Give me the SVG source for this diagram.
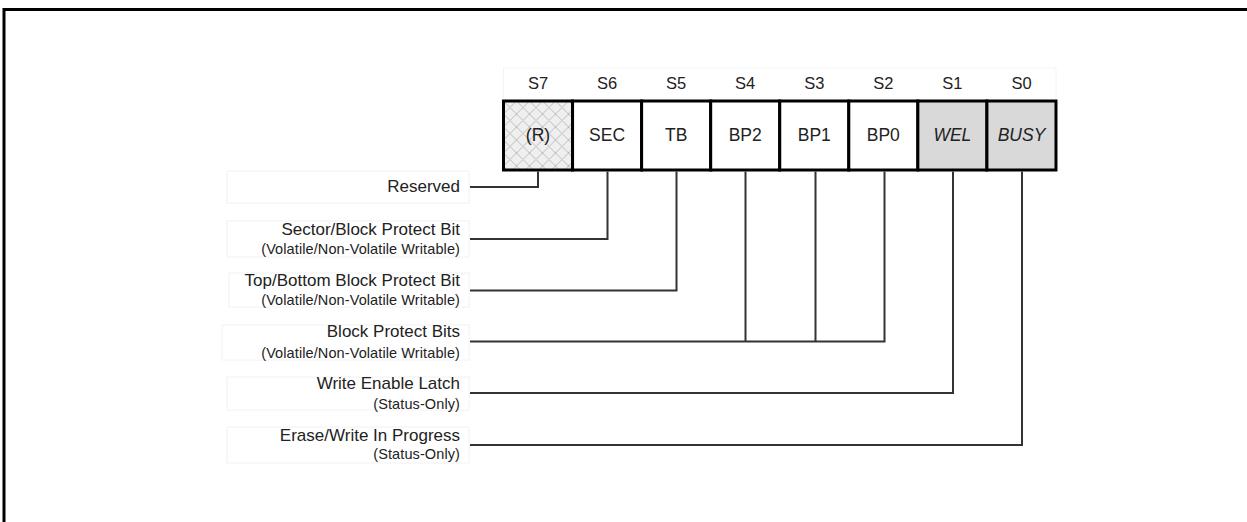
<svg xmlns="http://www.w3.org/2000/svg" width="1247" height="522" viewBox="0 0 1247 522">
<defs>
<pattern id="hatch" patternUnits="userSpaceOnUse" width="13" height="13" x="503.5" y="101">
<rect width="13" height="13" fill="#efefef"/>
<path d="M0,0 L13,13 M13,0 L0,13" stroke="#bdbdbd" stroke-width="1"/>
</pattern>
<style>
.hdr{font-family:"Liberation Sans",Arial,sans-serif;font-size:16.5px;fill:#222;text-anchor:middle}
.cell{font-family:"Liberation Sans",Arial,sans-serif;font-size:17.5px;fill:#222;text-anchor:middle}
.it{font-style:italic}
.lbl{font-family:"Liberation Sans",Arial,sans-serif;font-size:17px;fill:#222;text-anchor:end}
.sub{font-family:"Liberation Sans",Arial,sans-serif;font-size:14.5px;fill:#222;text-anchor:end;letter-spacing:0.1px}
.lbox{fill:none;stroke:#f2f2f2;stroke-width:1}
.hbox{fill:none;stroke:#f4f4f4;stroke-width:1}
.conn{fill:none;stroke:#333;stroke-width:2}
.cbox{stroke:#000;stroke-width:3}
</style>
</defs>
<rect width="1247" height="522" fill="#fff"/>
<path d="M4,522 V9.5 H1247" fill="none" stroke="#000" stroke-width="3"/>

<g id="headers">
<rect class="hbox" x="503.5" y="68" width="552.5" height="33"/>
<text class="hdr" x="538" y="89">S7</text>
<text class="hdr" x="607.1" y="89">S6</text>
<text class="hdr" x="676.2" y="89">S5</text>
<text class="hdr" x="745.2" y="89">S4</text>
<text class="hdr" x="814.3" y="89">S3</text>
<text class="hdr" x="883.3" y="89">S2</text>
<text class="hdr" x="952.4" y="89">S1</text>
<text class="hdr" x="1021.5" y="89">S0</text>
</g>

<g id="register">
<g id="cell-s7"><rect class="cbox" x="503.5" y="101" width="69.06" height="69" fill="url(#hatch)"/><text class="cell" x="538" y="140.5">(R)</text></g>
<g id="cell-s6"><rect class="cbox" x="572.56" y="101" width="69.06" height="69" fill="#fff"/><text class="cell" x="607.1" y="140.5">SEC</text></g>
<g id="cell-s5"><rect class="cbox" x="641.62" y="101" width="69.06" height="69" fill="#fff"/><text class="cell" x="676.2" y="140.5">TB</text></g>
<g id="cell-s4"><rect class="cbox" x="710.68" y="101" width="69.06" height="69" fill="#fff"/><text class="cell" x="745.2" y="140.5">BP2</text></g>
<g id="cell-s3"><rect class="cbox" x="779.74" y="101" width="69.06" height="69" fill="#fff"/><text class="cell" x="814.3" y="140.5">BP1</text></g>
<g id="cell-s2"><rect class="cbox" x="848.8" y="101" width="69.06" height="69" fill="#fff"/><text class="cell" x="883.3" y="140.5">BP0</text></g>
<g id="cell-s1"><rect class="cbox" x="917.86" y="101" width="69.06" height="69" fill="#d9d9d9"/><text class="cell it" x="952.4" y="140.5">WEL</text></g>
<g id="cell-s0"><rect class="cbox" x="986.92" y="101" width="69.06" height="69" fill="#d9d9d9"/><text class="cell it" x="1021.5" y="140.5">BUSY</text></g>
</g>

<g id="connectors">
<path class="conn" d="M470,187 H538 V171.5"/>
<path class="conn" d="M470,239 H607.5 V171.5"/>
<path class="conn" d="M470,290.5 H676.5 V171.5"/>
<path class="conn" d="M470,341.5 H884.5 V171.5 M745.5,341.5 V171.5 M815.5,341.5 V171.5"/>
<path class="conn" d="M470,393 H953 V171.5"/>
<path class="conn" d="M470,445 H1022 V171.5"/>
</g>

<g id="label-reserved">
<rect class="lbox" x="227" y="171" width="242" height="32"/>
<text class="lbl" x="460" y="192">Reserved</text>
</g>
<g id="label-sec">
<rect class="lbox" x="227" y="221" width="242" height="36"/>
<text class="lbl" x="460" y="235">Sector/Block Protect Bit</text>
<text class="sub" x="460" y="253.5">(Volatile/Non-Volatile Writable)</text>
</g>
<g id="label-tb">
<rect class="lbox" x="229" y="273" width="240" height="34"/>
<text class="lbl" x="460" y="286">Top/Bottom Block Protect Bit</text>
<text class="sub" x="460" y="304.5">(Volatile/Non-Volatile Writable)</text>
</g>
<g id="label-bp">
<rect class="lbox" x="222" y="325" width="247" height="35"/>
<text class="lbl" x="460" y="337">Block Protect Bits</text>
<text class="sub" x="460" y="358">(Volatile/Non-Volatile Writable)</text>
</g>
<g id="label-wel">
<rect class="lbox" x="227" y="377" width="242" height="33"/>
<text class="lbl" x="460" y="389">Write Enable Latch</text>
<text class="sub" x="460" y="409">(Status-Only)</text>
</g>
<g id="label-busy">
<rect class="lbox" x="227" y="427" width="242" height="36"/>
<text class="lbl" x="460" y="441">Erase/Write In Progress</text>
<text class="sub" x="460" y="459">(Status-Only)</text>
</g>
</svg>
